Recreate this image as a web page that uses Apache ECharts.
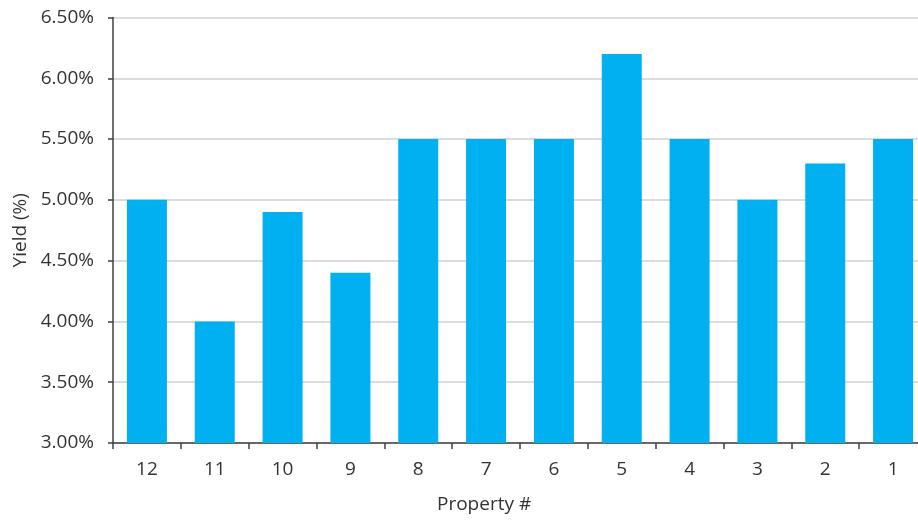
<!DOCTYPE html>
<html><head><meta charset="utf-8">
<script src="https://cdn.jsdelivr.net/npm/echarts@6/dist/echarts.min.js"></script>
<style>html,body{margin:0;padding:0;background:#fff}#c{width:918px;height:523px}</style>
</head><body><div id="c"></div>
<script>
const categories = ['12','11','10','9','8','7','6','5','4','3','2','1'];
const yieldValues = [5.00, 4.00, 4.90, 4.40, 5.50, 5.50, 5.50, 6.20, 5.50, 5.00, 5.30, 5.50];
const yMin = 3.0, yMax = 6.5, yStep = 0.5;
const chart = echarts.init(document.getElementById('c'));
const font = 'Open Sans';
chart.setOption({
  animation: false,
  grid: {left: 113, right: -9, top: 17.5, bottom: 80, containLabel: false, outerBoundsMode: 'none'},
  xAxis: {
    type: 'category', data: categories,
    axisLine: {lineStyle: {color: '#404040', width: 1.5}},
    axisTick: {show: true, length: 6, lineStyle: {color: '#404040', width: 1.5}},
    axisLabel: {color: '#333333', fontFamily: font, fontSize: 19, margin: 17}
  },
  yAxis: {
    type: 'value', min: yMin, max: yMax, interval: yStep,
    axisLine: {show: true, lineStyle: {color: '#404040', width: 1.5}},
    axisTick: {show: true, length: 5, lineStyle: {color: '#404040', width: 1.5}},
    splitLine: {lineStyle: {color: '#d0d0d0', width: 1.5}},
    axisLabel: {color: '#333333', fontFamily: font, fontSize: 19, margin: 19,
      formatter: v => v.toFixed(2) + '%'},
    name: 'Yield (%)', nameLocation: 'middle', nameGap: 82, nameRotate: 90,
    nameTextStyle: {color: '#333333', fontFamily: font, fontSize: 19}
  },
  graphic: [{type: 'text', left: 437, top: 495,
    style: {text: 'Property #', fill: '#333333', font: '19px "' + font + '"'}}],
  series: [{type: 'bar', data: yieldValues, barWidth: 40,
    itemStyle: {color: '#00b0f0'}}]
});
</script></body></html>
